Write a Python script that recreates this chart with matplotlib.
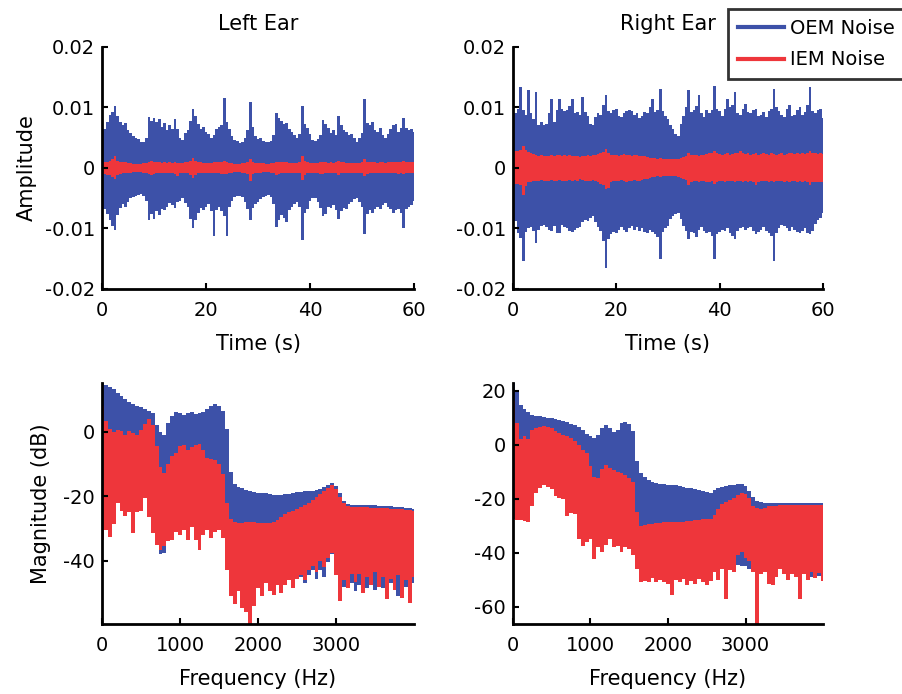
import matplotlib
matplotlib.use("Agg")
import matplotlib.pyplot as plt
import numpy as np
from matplotlib.lines import Line2D

plt.rcParams["font.family"] = "DejaVu Sans"
plt.rcParams["axes.unicode_minus"] = False

BLUE = "#3D51A8"
RED = "#EE363B"

SERIES = ["OEM Noise", "IEM Noise"]
PANEL_TITLES = ["Left Ear", "Right Ear"]

# ---- time-domain envelopes, sampled every 0.5 s (values in units of 1e-3) ----
TIME_S = np.linspace(0, 60, 121)

OEM_L_HI = [
    5.2, 6.5, 7.5, 8.8, 9.2, 10.3, 8.5, 7.6, 7.0, 7.4,
    6.2, 5.8, 5.2, 5.0, 4.8, 4.2, 4.3, 5.0, 8.4, 7.8,
    8.2, 7.6, 8.0, 6.8, 7.4, 6.2, 7.0, 6.4, 8.1, 6.5,
    5.0, 4.6, 5.8, 6.3, 7.8, 9.7, 8.5, 7.2, 6.5, 6.8,
    6.0, 5.6, 5.0, 5.4, 6.5, 6.8, 7.0, 11.6, 7.5, 6.4,
    5.2, 4.6, 4.5, 4.1, 4.3, 5.0, 6.2, 10.8, 6.8, 5.2,
    4.8, 5.0, 4.5, 4.3, 4.2, 4.4, 5.5, 9.1, 8.2, 7.8,
    7.2, 7.4, 6.4, 6.0, 5.4, 5.0, 5.6, 10.2, 7.2, 6.6,
    5.6, 4.6, 4.4, 4.8, 5.5, 7.9, 7.2, 6.6, 5.8, 6.2,
    5.5, 8.6, 7.0, 6.2, 6.0, 5.4, 5.6, 5.0, 4.3, 5.0,
    5.8, 11.3, 7.4, 7.0, 7.6, 6.2, 6.0, 6.6, 5.4, 5.0,
    5.6, 6.4, 7.0, 7.2, 6.0, 6.6, 8.3, 6.6, 6.2, 6.4,
    6.0]
OEM_L_LO = [
    -5.2, -6.8, -7.6, -8.6, -9.6, -10.2, -7.8, -6.6, -6.0, -6.4,
    -5.6, -5.0, -4.8, -4.6, -4.4, -4.3, -4.6, -5.4, -8.6, -7.6,
    -8.4, -7.2, -7.8, -6.8, -7.0, -6.4, -5.8, -6.2, -6.6, -5.6,
    -5.4, -5.0, -5.8, -6.4, -8.4, -10.0, -8.6, -7.4, -6.6, -7.0,
    -6.4, -6.0, -7.2, -11.3, -7.0, -6.4, -7.2, -8.0, -11.2, -6.4,
    -5.4, -4.8, -4.6, -4.6, -4.8, -5.6, -6.8, -8.6, -6.6, -6.0,
    -5.6, -5.2, -4.8, -4.6, -4.4, -4.8, -6.0, -9.7, -8.6, -7.8,
    -8.2, -9.0, -7.0, -6.4, -6.0, -5.6, -6.4, -11.9, -7.4, -6.8,
    -5.4, -5.0, -5.0, -5.6, -6.6, -8.0, -7.6, -6.4, -6.6, -6.2,
    -7.0, -8.4, -7.2, -6.6, -6.8, -6.0, -5.6, -5.2, -5.0, -5.6,
    -6.4, -11.0, -7.6, -7.0, -7.4, -6.8, -6.4, -6.8, -6.2, -5.8,
    -6.4, -6.8, -7.4, -7.0, -6.8, -7.4, -10.0, -6.8, -6.4, -6.2,
    -5.4]
IEM_L_HI = [
    0.9, 1.0, 1.0, 1.1, 1.4, 1.9, 1.1, 1.0, 0.9, 0.9,
    0.8, 0.8, 0.7, 0.7, 0.7, 0.7, 0.8, 0.8, 1.0, 1.1,
    1.0, 0.9, 0.9, 0.8, 0.9, 0.8, 0.9, 0.8, 0.9, 0.8,
    0.8, 0.8, 0.9, 0.9, 1.1, 1.7, 1.2, 0.9, 0.9, 0.8,
    0.8, 0.8, 0.8, 0.9, 0.9, 1.0, 1.0, 1.1, 1.0, 0.8,
    0.8, 0.7, 0.7, 0.7, 0.8, 0.8, 0.9, 1.4, 0.9, 0.8,
    0.8, 0.8, 0.8, 0.7, 0.7, 0.8, 0.8, 1.0, 0.9, 0.9,
    0.9, 0.9, 0.8, 0.8, 0.8, 0.8, 0.9, 1.9, 1.1, 0.9,
    0.8, 0.8, 0.8, 0.8, 1.0, 1.0, 0.9, 0.8, 0.9, 0.8,
    1.0, 1.1, 0.9, 0.9, 0.8, 0.8, 0.8, 0.8, 0.8, 0.8,
    0.9, 1.4, 1.0, 0.9, 0.9, 0.9, 0.8, 0.9, 0.9, 0.8,
    0.9, 0.9, 0.9, 0.9, 0.9, 0.9, 1.2, 0.9, 0.9, 0.9,
    0.9]
IEM_L_LO = [
    -0.9, -1.0, -1.1, -1.1, -1.5, -1.9, -1.2, -1.0, -0.9, -0.9,
    -0.8, -0.8, -0.7, -0.7, -0.7, -0.7, -0.8, -0.8, -1.0, -1.1,
    -1.0, -0.9, -0.9, -0.9, -0.9, -0.8, -0.9, -0.9, -1.0, -1.3,
    -0.8, -0.8, -0.9, -0.9, -1.1, -1.6, -1.2, -0.9, -0.9, -0.9,
    -0.8, -0.8, -0.8, -0.9, -0.9, -0.9, -1.0, -1.0, -1.0, -0.8,
    -0.8, -0.7, -0.7, -0.7, -0.8, -0.8, -1.0, -2.2, -1.0, -0.8,
    -0.8, -0.8, -0.7, -0.7, -0.7, -0.8, -0.9, -1.1, -1.0, -0.9,
    -0.9, -0.9, -0.8, -0.8, -0.8, -0.8, -0.9, -2.0, -1.2, -0.9,
    -0.8, -0.8, -0.8, -0.8, -1.0, -1.0, -0.9, -0.9, -0.9, -0.8,
    -0.9, -1.1, -0.9, -0.9, -0.8, -0.8, -0.8, -0.8, -0.8, -0.8,
    -0.9, -1.3, -1.0, -0.9, -0.9, -0.9, -0.9, -0.9, -0.9, -0.8,
    -0.9, -0.9, -0.9, -0.9, -1.0, -0.9, -1.0, -0.9, -0.9, -0.9,
    -0.9]

OEM_R_HI = [
    8.6, 9.0, 9.7, 13.3, 9.5, 8.8, 12.8, 9.0, 8.0, 12.5,
    7.0, 7.6, 7.0, 7.2, 9.0, 11.4, 7.6, 9.5, 11.4, 9.8,
    9.4, 9.6, 10.2, 11.4, 9.0, 9.2, 8.8, 11.7, 9.2, 8.6,
    7.2, 7.0, 8.4, 9.0, 8.8, 10.4, 12.0, 9.4, 9.0, 9.6,
    9.8, 8.6, 8.4, 9.0, 9.4, 9.6, 9.4, 8.8, 9.0, 8.2,
    8.6, 9.2, 9.0, 10.0, 11.4, 9.2, 9.6, 13.0, 9.4, 8.6,
    8.0, 7.0, 6.4, 5.6, 5.3, 7.2, 8.6, 10.0, 12.8, 9.2,
    9.6, 10.2, 12.0, 9.0, 8.4, 9.6, 9.0, 9.6, 13.6, 9.8,
    9.4, 8.6, 9.8, 11.4, 10.0, 10.4, 12.5, 9.0, 8.8, 9.8,
    10.6, 9.2, 9.0, 9.6, 9.8, 8.6, 8.8, 9.2, 8.4, 9.4,
    9.8, 13.0, 10.0, 9.4, 8.8, 8.4, 9.8, 10.4, 8.6, 8.8,
    9.6, 10.0, 8.8, 9.2, 10.4, 13.3, 9.4, 9.0, 9.6, 9.8,
    8.2]
OEM_R_LO = [
    -8.5, -8.8, -10.8, -11.6, -15.4, -10.6, -10.0, -9.8, -10.4, -12.4,
    -10.2, -9.6, -9.4, -9.8, -10.2, -10.4, -9.6, -10.8, -10.7, -9.4,
    -9.8, -10.0, -10.4, -10.6, -10.2, -10.0, -9.8, -9.0, -8.6, -8.8,
    -8.2, -8.0, -9.0, -9.8, -10.4, -12.0, -16.5, -11.8, -11.0, -10.6,
    -10.8, -10.2, -9.8, -10.2, -10.6, -10.0, -9.6, -10.2, -9.8, -10.4,
    -10.0, -10.6, -10.8, -10.2, -10.6, -11.0, -11.4, -15.1, -10.6, -10.0,
    -9.6, -8.4, -8.0, -7.6, -7.4, -8.4, -9.6, -10.4, -11.8, -10.6,
    -10.8, -11.4, -10.2, -9.8, -10.4, -10.8, -10.6, -11.2, -15.1, -11.0,
    -10.6, -10.2, -10.4, -10.0, -10.8, -11.2, -11.8, -10.4, -10.0, -9.8,
    -10.2, -10.0, -9.8, -10.4, -11.0, -10.6, -10.2, -9.8, -10.4, -10.8,
    -11.2, -15.4, -10.8, -10.0, -9.4, -9.6, -10.0, -10.4, -9.8, -10.2,
    -10.6, -10.8, -10.4, -10.0, -10.8, -11.0, -10.4, -9.2, -8.6, -8.2,
    -7.4]
IEM_R_HI = [
    2.6, 2.8, 2.8, 3.0, 3.6, 3.0, 2.6, 2.4, 2.3, 2.2,
    2.0, 2.1, 2.0, 1.9, 2.0, 2.1, 2.0, 2.2, 2.1, 2.0,
    2.1, 2.0, 2.2, 2.0, 1.9, 2.0, 1.8, 1.9, 2.0, 2.1,
    2.0, 2.1, 2.2, 2.3, 2.4, 2.6, 3.2, 2.4, 2.2, 2.1,
    2.2, 2.0, 2.1, 2.3, 2.2, 2.1, 2.0, 2.2, 2.1, 2.0,
    2.0, 1.9, 1.8, 1.7, 1.6, 1.6, 1.5, 1.6, 1.5, 1.4,
    1.4, 1.5, 1.4, 1.5, 1.4, 1.6, 1.8, 2.0, 2.4, 2.2,
    2.1, 2.2, 2.0, 2.1, 2.2, 2.3, 2.4, 2.5, 2.8, 2.4,
    2.3, 2.2, 2.3, 2.4, 2.2, 2.3, 2.4, 2.5, 2.8, 2.4,
    2.3, 2.4, 2.2, 2.3, 2.4, 2.2, 2.3, 2.4, 2.3, 2.2,
    2.4, 2.3, 2.2, 2.3, 2.4, 2.2, 2.3, 2.4, 2.5, 2.3,
    2.4, 2.3, 2.4, 2.3, 2.5, 2.8, 2.5, 2.4, 2.3, 2.4,
    2.3]
IEM_R_LO = [
    -2.4, -2.6, -2.6, -2.8, -4.4, -3.0, -2.4, -2.3, -2.2, -2.2,
    -2.1, -2.0, -2.1, -2.2, -2.1, -2.0, -2.1, -2.2, -2.0, -2.1,
    -2.2, -2.1, -2.0, -2.1, -2.0, -2.1, -1.9, -2.0, -2.1, -2.2,
    -2.1, -2.0, -2.2, -2.4, -2.6, -2.8, -3.5, -3.3, -2.4, -2.2,
    -2.1, -2.2, -2.0, -2.1, -2.3, -2.2, -2.1, -2.0, -2.2, -2.1,
    -2.0, -1.9, -1.8, -1.6, -1.5, -1.5, -1.4, -1.5, -1.4, -1.3,
    -1.4, -1.3, -1.4, -1.3, -1.5, -1.6, -1.8, -2.0, -2.8, -2.4,
    -2.2, -2.2, -2.3, -2.1, -2.2, -2.4, -2.3, -2.2, -2.7, -2.3,
    -2.2, -2.2, -2.3, -2.2, -2.1, -2.2, -2.3, -2.2, -2.2, -2.3,
    -2.2, -2.4, -2.2, -2.3, -2.9, -2.3, -2.2, -2.1, -2.2, -2.3,
    -2.2, -2.3, -2.2, -2.1, -2.2, -2.3, -2.2, -2.3, -2.2, -2.2,
    -2.3, -2.2, -2.3, -2.2, -2.4, -2.8, -2.4, -2.3, -2.4, -2.4,
    -2.4]

AMP_TICKS = [-0.02, -0.01, 0, 0.01, 0.02]
AMP_TICK_LABELS = ["-0.02", "-0.01", "0", "0.01", "0.02"]
TIME_TICKS = [0, 20, 40, 60]

# ---- magnitude spectra envelopes (dB), every 50 Hz from 0 to 4000 Hz ----
FREQ_HZ = np.linspace(0, 4000, 81)

SPEC_OEM_L_HI = [
    15.2, 14.6, 14.0, 13.2, 12.2, 11.2, 10.2, 9.4, 8.8, 8.2,
    7.7, 7.0, 6.5, 5.8, 2.0, 0.0, -0.8, 2.8, 5.0, 6.2,
    5.8, 5.2, 5.8, 6.2, 5.7, 5.8, 6.2, 7.0, 8.0, 8.8,
    8.0, 6.4, 1.0, -12.5, -16.3, -17.0, -17.5, -17.9, -18.2, -18.5,
    -18.8, -19.0, -19.1, -19.3, -19.5, -19.6, -19.6, -19.4, -19.2, -19.0,
    -18.7, -18.6, -18.4, -18.3, -18.2, -18.0, -17.7, -17.2, -16.6, -16.0,
    -16.8, -19.0, -21.5, -22.4, -22.6, -22.7, -22.7, -22.7, -22.7, -22.8,
    -22.8, -22.9, -23.0, -23.0, -23.1, -23.2, -23.3, -23.4, -23.5, -23.6,
    -23.8]
SPEC_OEM_L_LO = [
    -30.0, -28.0, -29.0, -26.0, -20.0, -22.0, -23.0, -22.0, -28.0, -22.0,
    -22.0, -18.0, -24.0, -29.0, -33.0, -38.0, -37.5, -32.0, -31.0, -28.0,
    -29.0, -28.0, -30.0, -27.0, -30.0, -33.0, -29.0, -28.0, -30.0, -28.0,
    -28.0, -30.0, -38.0, -46.0, -48.0, -46.0, -50.0, -52.0, -57.0, -50.0,
    -46.0, -47.0, -44.0, -46.0, -47.0, -45.0, -47.0, -45.0, -44.0, -46.0,
    -45.5, -45.0, -47.0, -44.5, -43.0, -45.5, -43.0, -45.0, -40.5, -38.0,
    -43.0, -46.5, -48.0, -46.0, -47.0, -49.5, -47.5, -47.0, -48.5, -47.0,
    -49.0, -47.5, -48.5, -50.0, -47.0, -48.0, -51.0, -47.5, -48.0, -50.0,
    -47.0]
SPEC_IEM_L_HI = [
    8.0, 3.5, 1.0, 0.0, 0.5, 0.2, -1.0, 0.3, -0.3, -0.8,
    0.5, 2.5, 4.0, 2.0, -4.5, -11.0, -12.8, -10.0, -7.5, -6.5,
    -4.5, -4.0, -5.5, -4.8, -4.2, -3.6, -5.5, -8.0, -8.5, -8.8,
    -10.0, -13.0, -22.0, -27.0, -28.0, -28.4, -28.2, -28.0, -27.9, -28.0,
    -28.2, -28.4, -28.4, -28.2, -27.8, -27.4, -26.5, -25.4, -24.9, -24.4,
    -23.9, -23.3, -22.6, -22.0, -21.2, -20.2, -19.3, -18.4, -17.5, -16.6,
    -17.8, -20.3, -22.2, -23.0, -23.2, -23.3, -23.3, -23.4, -23.4, -23.5,
    -23.5, -23.6, -23.6, -23.7, -23.8, -23.8, -23.9, -24.0, -24.1, -24.2,
    -24.4]
SPEC_IEM_L_LO = [
    -33.5, -30.5, -32.5, -28.5, -22.0, -24.5, -26.0, -25.0, -31.5, -25.0,
    -24.5, -20.5, -26.5, -31.5, -35.0, -36.5, -35.5, -34.0, -33.5, -31.0,
    -32.0, -30.5, -33.5, -29.5, -33.5, -36.5, -32.0, -30.5, -33.0, -31.0,
    -30.5, -33.0, -43.0, -51.0, -53.5, -49.5, -54.5, -56.0, -59.5, -54.0,
    -48.5, -51.0, -47.0, -49.5, -50.5, -47.5, -50.0, -47.5, -46.0, -48.5,
    -45.5, -44.5, -46.0, -43.0, -41.5, -43.5, -40.0, -42.0, -39.0, -37.5,
    -44.5, -52.5, -46.0, -48.5, -44.0, -46.5, -44.0, -50.0, -45.0, -47.5,
    -43.5, -48.0, -45.0, -52.0, -45.5, -49.0, -44.5, -51.5, -46.0, -53.0,
    -45.0]

SPEC_OEM_R_HI = [
    22.7, 20.0, 14.5, 13.0, 12.0, 11.0, 10.7, 10.4, 10.2, 10.0,
    9.8, 9.4, 9.0, 8.7, 8.2, 7.6, 7.2, 6.4, 5.4, 4.0,
    3.1, 2.6, 3.5, 6.0, 7.2, 6.0, 4.5, 5.4, 7.8, 8.2,
    7.6, 5.0, -6.0, -10.5, -12.0, -13.2, -13.8, -14.2, -14.5, -14.7,
    -14.9, -15.0, -15.1, -15.3, -15.6, -15.9, -16.2, -16.5, -16.8, -17.2,
    -17.6, -17.8, -17.0, -16.0, -15.6, -15.3, -15.1, -14.9, -14.7, -14.5,
    -15.5, -17.2, -19.5, -20.9, -21.3, -21.5, -21.6, -21.7, -21.7, -21.7,
    -21.7, -21.6, -21.6, -21.6, -21.5, -21.5, -21.5, -21.5, -21.5, -21.5,
    -21.5]
SPEC_OEM_R_LO = [
    -25.0, -25.0, -25.0, -25.0, -25.0, -20.0, -15.0, -13.0, -12.0, -13.0,
    -14.0, -16.0, -17.0, -17.0, -23.0, -22.0, -23.0, -32.0, -34.0, -33.0,
    -32.0, -39.0, -35.0, -37.0, -34.0, -32.0, -35.0, -34.0, -37.0, -35.0,
    -36.0, -38.0, -43.0, -48.0, -47.0, -48.0, -46.0, -48.0, -47.0, -48.0,
    -48.0, -52.0, -47.0, -48.0, -47.0, -49.0, -47.0, -48.0, -47.0, -48.0,
    -49.0, -47.0, -44.0, -47.0, -43.0, -53.0, -46.0, -45.5, -44.5, -45.0,
    -44.8, -46.0, -45.0, -48.0, -46.0, -45.5, -47.0, -48.5, -46.5, -46.0,
    -47.5, -48.0, -47.0, -46.5, -49.0, -47.5, -48.0, -49.0, -47.5, -48.5,
    -48.0]
SPEC_IEM_R_HI = [
    16.0, 8.0, 2.0, 3.0, 2.0, 5.5, 6.0, 6.4, 6.7, 6.4,
    6.1, 5.2, 4.3, 3.6, 3.1, 2.4, 1.2, 0.0, -2.0, -3.0,
    -8.0, -12.0, -12.5, -9.0, -7.4, -8.6, -9.4, -10.0, -10.4, -11.4,
    -12.3, -14.0, -25.0, -30.0, -29.8, -29.5, -29.3, -29.0, -28.9, -28.8,
    -28.8, -28.8, -28.8, -28.8, -28.6, -28.4, -28.2, -28.0, -27.8, -27.6,
    -27.6, -27.5, -26.0, -24.0, -22.0, -21.2, -20.4, -19.6, -18.8, -17.8,
    -18.4, -19.8, -22.7, -23.5, -23.9, -23.5, -22.9, -22.7, -22.6, -22.5,
    -22.5, -22.4, -22.4, -22.3, -22.3, -22.3, -22.2, -22.2, -22.2, -22.2,
    -22.2]
SPEC_IEM_R_LO = [
    -27.6, -27.8, -28.0, -28.4, -28.6, -22.7, -17.8, -16.0, -14.8, -15.6,
    -16.6, -19.0, -19.6, -20.2, -26.4, -25.2, -25.8, -35.0, -37.4, -36.0,
    -35.0, -42.3, -38.0, -39.9, -37.0, -35.0, -38.0, -37.4, -39.9, -38.0,
    -38.6, -41.0, -46.0, -50.9, -50.5, -50.9, -49.5, -50.9, -50.0, -50.9,
    -51.5, -55.8, -50.0, -51.0, -49.7, -52.0, -50.5, -51.5, -49.8, -51.0,
    -52.0, -50.5, -47.2, -50.0, -46.0, -57.0, -46.5, -47.0, -41.0, -39.9,
    -42.0, -43.0, -47.0, -66.4, -48.0, -47.0, -51.5, -52.0, -49.0, -46.0,
    -48.0, -50.0, -48.0, -49.0, -57.0, -48.0, -50.0, -47.0, -49.5, -47.5,
    -50.5]

FREQ_TICKS = [0, 1000, 2000, 3000]
DB_LIMITS = [(-59.6, 15.2), (-66.4, 22.8)]
DB_TICKS = [[-40, -20, 0], [-60, -40, -20, 0, 20]]

time_data = [
    (OEM_L_HI, OEM_L_LO, IEM_L_HI, IEM_L_LO),
    (OEM_R_HI, OEM_R_LO, IEM_R_HI, IEM_R_LO),
]
spec_data = [
    (SPEC_OEM_L_HI, SPEC_OEM_L_LO, SPEC_IEM_L_HI, SPEC_IEM_L_LO),
    (SPEC_OEM_R_HI, SPEC_OEM_R_LO, SPEC_IEM_R_HI, SPEC_IEM_R_LO),
]

fig = plt.figure(figsize=(9.03, 6.94), dpi=100)

# axes rectangles (left, bottom, width, height) in figure fractions
rects_top = [(0.113, 0.5836, 0.3455, 0.349), (0.568, 0.5836, 0.3435, 0.349)]
rects_bot = [(0.113, 0.1009, 0.3455, 0.3473), (0.568, 0.1009, 0.3435, 0.3473)]


def style_axes(ax):
    for side in ["top", "right"]:
        ax.spines[side].set_visible(False)
    for side in ["left", "bottom"]:
        ax.spines[side].set_linewidth(2.0)
        ax.spines[side].set_color("black")
    ax.tick_params(direction="in", length=4, width=1.5, labelsize=14,
                   top=False, right=False, colors="black")
    ax.tick_params(axis="x", pad=9)
    ax.tick_params(axis="y", pad=5)


def envelope(ax, x, lo, hi, color, scale=1.0):
    ax.fill_between(x, np.asarray(lo) * scale, np.asarray(hi) * scale,
                    step="mid", color=color, linewidth=0)


for i in range(2):
    oem_hi, oem_lo, iem_hi, iem_lo = time_data[i]
    ax = fig.add_axes(rects_top[i])
    envelope(ax, TIME_S, oem_lo, oem_hi, BLUE, 1e-3)
    envelope(ax, TIME_S, iem_lo, iem_hi, RED, 1e-3)
    ax.set_xlim(0, 60)
    ax.set_ylim(-0.02, 0.02)
    ax.set_xticks(TIME_TICKS)
    ax.set_yticks(AMP_TICKS)
    ax.set_yticklabels(AMP_TICK_LABELS)
    ax.set_xlabel("Time (s)", fontsize=15, labelpad=10)
    ax.set_title(PANEL_TITLES[i], fontsize=15, pad=12)
    if i == 0:
        ax.set_ylabel("Amplitude", fontsize=15, labelpad=6)
    style_axes(ax)

    s_oem_hi, s_oem_lo, s_iem_hi, s_iem_lo = spec_data[i]
    ax = fig.add_axes(rects_bot[i])
    envelope(ax, FREQ_HZ, s_oem_lo, s_oem_hi, BLUE)
    envelope(ax, FREQ_HZ, s_iem_lo, s_iem_hi, RED)
    ax.set_xlim(0, 4000)
    ax.set_ylim(*DB_LIMITS[i])
    ax.set_xticks(FREQ_TICKS)
    ax.set_yticks(DB_TICKS[i])
    ax.set_xlabel("Frequency (Hz)", fontsize=15, labelpad=10)
    if i == 0:
        ax.set_ylabel("Magnitude (dB)", fontsize=15, labelpad=9)
    style_axes(ax)

handles = [Line2D([], [], color=BLUE, lw=3), Line2D([], [], color=RED, lw=3)]
leg = fig.legend(handles, SERIES, loc="upper left",
                 bbox_to_anchor=(0.806, 0.987), bbox_transform=fig.transFigure,
                 fontsize=14, frameon=True, fancybox=False, borderaxespad=0,
                 borderpad=0.5, handlelength=2.4, handletextpad=0.3,
                 labelspacing=0.65)
leg.get_frame().set_edgecolor("black")
leg.get_frame().set_linewidth(2.0)

fig.savefig("out.png", dpi=100, facecolor="white")
